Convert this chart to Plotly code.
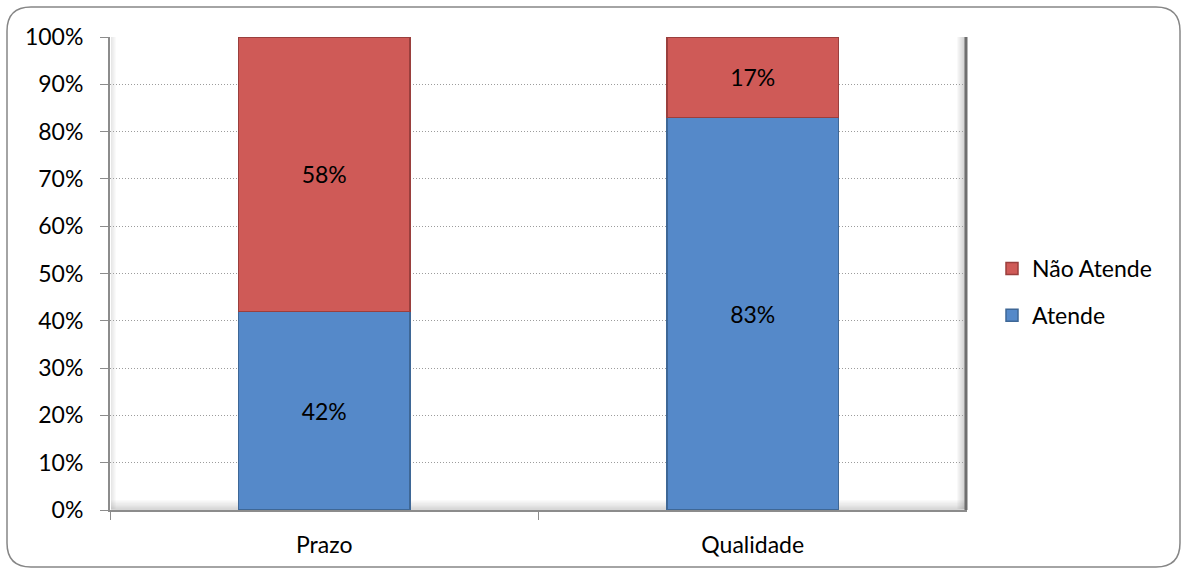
import plotly.graph_objects as go

categories = ["Prazo", "Qualidade"]
atende = [42, 83]
nao_atende = [58, 17]
y_ticks = [0, 10, 20, 30, 40, 50, 60, 70, 80, 90, 100]
y_tick_labels = [f"{v}%" for v in y_ticks]

W, H = 1182, 572
L, R, T, B = 110, 967, 37, 510
MR = 2                      # tiny right margin; the legend lives inside the paper
PW = W - L - MR             # paper width in px
FONT = "Lato, Open Sans, sans-serif"
FS = 23

def px_x(x):
    return (x - L) / PW

def px_y(y):
    return (B - y) / (B - T)

fig = go.Figure()
fig.add_trace(go.Bar(
    name="Atende", x=categories, y=atende, legendgroup="atende", legendrank=2,
    marker=dict(color="#5589C9", line=dict(color="#3E6796", width=1.5)),
    text=[f"{v}%" for v in atende], textposition="inside",
    insidetextanchor="middle", textfont=dict(color="black", size=FS),
))
fig.add_trace(go.Bar(
    name="Não Atende", x=categories, y=nao_atende, legendgroup="nao", legendrank=1,
    marker=dict(color="#CF5A57", line=dict(color="#9A3F3D", width=1.5)),
    text=[f"{v}%" for v in nao_atende], textposition="inside",
    insidetextanchor="middle", textfont=dict(color="black", size=FS),
))

shapes = []
# soft inner shadow along the right, bottom and left of the plotting area
for i in range(10):
    op = 0.04 + 0.035 * i
    shapes.append(dict(type="rect", xref="paper", yref="paper", layer="below",
                       x0=px_x(R - 10 + i), x1=px_x(R - 9 + i), y0=px_y(B - 1), y1=1,
                       fillcolor=f"rgba(90,90,90,{op:.2f})", line=dict(width=0)))
    shapes.append(dict(type="rect", xref="paper", yref="paper", layer="below",
                       x0=px_x(L + 1), x1=px_x(R), y0=px_y(B - 10 + i), y1=px_y(B - 9 + i),
                       fillcolor=f"rgba(110,110,110,{op*0.8:.2f})", line=dict(width=0)))
for i in range(5):
    shapes.append(dict(type="rect", xref="paper", yref="paper", layer="below",
                       x0=px_x(L + 1 + i), x1=px_x(L + 2 + i), y0=px_y(B - 1), y1=1,
                       fillcolor=f"rgba(120,120,120,{0.18 - 0.035 * i:.2f})",
                       line=dict(width=0)))
shapes.append(dict(type="line", xref="paper", yref="paper", layer="above",
                   x0=px_x(R - 1), x1=px_x(R - 1), y0=0, y1=1,
                   line=dict(color="#6E6E6E", width=3)))

# rounded outer frame
x0, x1, y0, y1, r = 7, 1180, 7, 567, 24
pts = [
    ("M", [(x0 + r, y0)]), ("L", [(x1 - r, y0)]), ("Q", [(x1, y0), (x1, y0 + r)]),
    ("L", [(x1, y1 - r)]), ("Q", [(x1, y1), (x1 - r, y1)]), ("L", [(x0 + r, y1)]),
    ("Q", [(x0, y1), (x0, y1 - r)]), ("L", [(x0, y0 + r)]), ("Q", [(x0, y0), (x0 + r, y0)]),
]
path = ""
for cmd, cps in pts:
    path += cmd + " ".join(f"{px_x(a):.5f},{px_y(b):.5f}" for a, b in cps) + " "
path += "Z"
shapes.append(dict(type="path", xref="paper", yref="paper", path=path,
                   line=dict(color="#868686", width=1.5), layer="above"))

fig.update_layout(
    width=W, height=H,
    barmode="stack", bargap=0.6,
    paper_bgcolor="white", plot_bgcolor="white",
    margin=dict(l=L, r=MR, t=T, b=H - B, pad=0, autoexpand=False),
    font=dict(family=FONT, size=FS, color="black"),
    showlegend=True,
    legend=dict(x=px_x(992), y=px_y(292), xanchor="left", yanchor="middle",
                traceorder="grouped", font=dict(size=FS),
                tracegroupgap=14, bgcolor="rgba(0,0,0,0)"),
    shapes=shapes,
    uniformtext=dict(minsize=10, mode="show"),
)
fig.update_xaxes(
    domain=[0, (R - L) / PW],
    showline=True, linecolor="#8C8C8C", linewidth=2,
    ticks="outside", tickson="boundaries", ticklen=8, tickcolor="#8C8C8C",
    tickfont=dict(size=FS), showgrid=False, ticklabelstandoff=13,
)
fig.update_yaxes(
    range=[0, 100], tickvals=y_ticks, ticktext=y_tick_labels,
    showline=True, linecolor="#8C8C8C", linewidth=2,
    ticks="outside", ticklen=8, tickcolor="#8C8C8C",
    showgrid=True, gridcolor="#9C9C9C", griddash="1px,2px", gridwidth=1,
    tickfont=dict(size=FS), zeroline=False, ticklabelstandoff=12,
)

fig.write_html("out.html")
